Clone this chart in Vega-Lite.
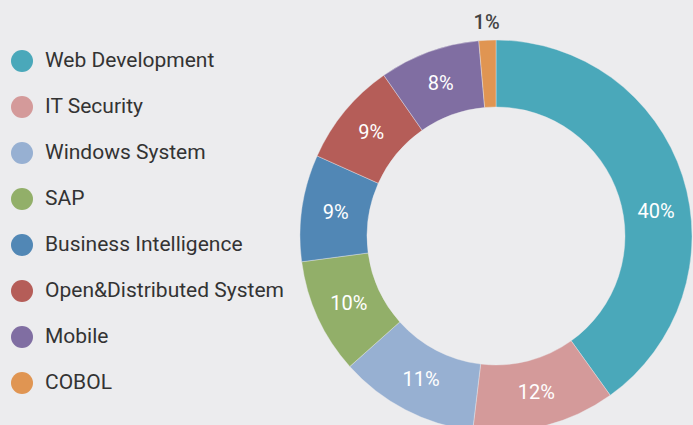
{
  "$schema": "https://vega.github.io/schema/vega-lite/v6.json",
  "width": 392,
  "height": 392,
  "autosize": {"type": "none"},
  "padding": {"left": 300, "top": 40, "right": 1, "bottom": 0},
  "background": "#ECECEE",
  "config": {"view": {"stroke": null}, "font": "Roboto"},
  "data": {
    "values": [
      {"category": "Web Development", "value": 40.1, "label": "40%"},
      {"category": "IT Security", "value": 11.8, "label": "12%"},
      {"category": "Windows System", "value": 11.5, "label": "11%"},
      {"category": "SAP", "value": 9.5, "label": "10%"},
      {"category": "Business Intelligence", "value": 8.8, "label": "9%"},
      {"category": "Open&Distributed System", "value": 8.6, "label": "9%"},
      {"category": "Mobile", "value": 8.3, "label": "8%"},
      {"category": "COBOL", "value": 1.4, "label": "1%"}
    ]
  },
  "transform": [{"window": [{"op": "row_number", "as": "idx"}]}],
  "encoding": {
    "theta": {"field": "value", "type": "quantitative", "stack": true},
    "order": {"field": "idx", "type": "quantitative"}
  },
  "layer": [
    {
      "mark": {"type": "arc", "outerRadius": 196, "innerRadius": 129, "stroke": "#ECECEE", "strokeWidth": 0.4},
      "encoding": {
        "color": {
          "field": "category",
          "type": "nominal",
          "sort": null,
          "scale": {
            "domain": ["Web Development", "IT Security", "Windows System", "SAP", "Business Intelligence", "Open&Distributed System", "Mobile", "COBOL"],
            "range": ["#4AA8BA", "#D49A9A", "#97B0D2", "#92AF69", "#5187B5", "#B55D58", "#806EA2", "#E09552"]
          },
          "legend": {
            "orient": "none",
            "legendX": -289,
            "legendY": 10,
            "title": null,
            "symbolType": "circle",
            "symbolSize": 484,
            "symbolStrokeWidth": 0,
            "symbolOpacity": 1,
            "labelFont": "Roboto",
            "labelFontSize": 21,
            "labelColor": "#333333",
            "labelOffset": 12,
            "labelLimit": 400,
            "rowPadding": 24,
            "padding": 0
          }
        }
      }
    },
    {
      "mark": {"type": "text", "radius": 162, "fontSize": 20, "color": "white", "font": "Roboto"},
      "encoding": {
        "detail": {"field": "category", "type": "nominal"},
        "text": {"field": "label", "type": "nominal"},
        "opacity": {"condition": {"test": "datum.value < 5 || datum.value > 30", "value": 0}, "value": 1}
      }
    },
    {
      "mark": {"type": "text", "radius": 162, "thetaOffset": 0.16, "fontSize": 20, "color": "white", "font": "Roboto"},
      "encoding": {
        "detail": {"field": "category", "type": "nominal"},
        "text": {"field": "label", "type": "nominal"},
        "opacity": {"condition": {"test": "datum.value > 30", "value": 1}, "value": 0}
      }
    },
    {
      "mark": {"type": "text", "radius": 213, "fontSize": 20, "color": "#444444", "font": "Roboto", "fontWeight": 500},
      "encoding": {
        "detail": {"field": "category", "type": "nominal"},
        "text": {"field": "label", "type": "nominal"},
        "opacity": {"condition": {"test": "datum.value < 5", "value": 1}, "value": 0}
      }
    }
  ]
}
